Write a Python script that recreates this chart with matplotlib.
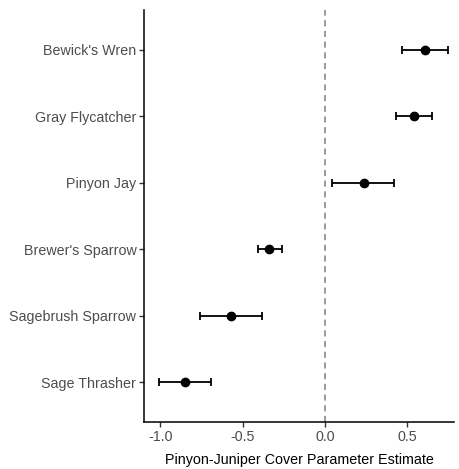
import matplotlib
matplotlib.use("Agg")
import matplotlib.pyplot as plt
import numpy as np

plt.rcParams['font.family'] = ['Liberation Sans', 'DejaVu Sans']

# species listed bottom to top
species = ["Sage Thrasher", "Sagebrush Sparrow", "Brewer's Sparrow",
           "Pinyon Jay", "Gray Flycatcher", "Bewick's Wren"]
estimate = [-0.85, -0.57, -0.34, 0.24, 0.54, 0.61]
lower = [-1.01, -0.76, -0.41, 0.04, 0.43, 0.47]
upper = [-0.69, -0.38, -0.26, 0.42, 0.65, 0.75]

est = np.array(estimate)
err = [est - np.array(lower), np.array(upper) - est]
ypos = np.arange(1, len(species) + 1)

fig = plt.figure(figsize=(4.6, 4.69), dpi=100)
ax = fig.add_axes([0.313, 0.1002, 0.675, 0.8785])

ax.axvline(0, color='#7f7f7f', linestyle=(0, (4, 3)), linewidth=1.1, zorder=1)
ax.errorbar(est, ypos, xerr=err, fmt='o', color='black', markersize=6,
            elinewidth=1.3, capsize=3, capthick=1.3, zorder=3)

ax.set_xlim(-1.10, 0.787)
ax.set_ylim(0.4, len(species) + 0.6)
ax.set_xticks([-1.0, -0.5, 0.0, 0.5])
ax.set_xticklabels(['-1.0', '-0.5', '0.0', '0.5'])
ax.set_yticks(ypos)
ax.set_yticklabels(species)
ax.set_xlabel('Pinyon-Juniper Cover Parameter Estimate', fontsize=10.3, color='black', labelpad=7)

for s in ['top', 'right']:
    ax.spines[s].set_visible(False)
for s in ['left', 'bottom']:
    ax.spines[s].set_linewidth(1.1)
ax.tick_params(axis='both', length=3.5, width=1.0, color='#333333',
               labelcolor='#4d4d4d', labelsize=10.3, pad=2)

fig.savefig('out.png', dpi=100)
